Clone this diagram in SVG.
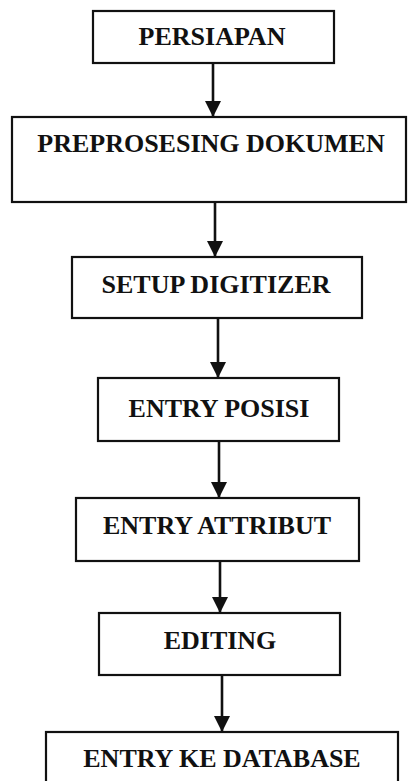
<svg xmlns="http://www.w3.org/2000/svg" width="408" height="781" viewBox="0 0 408 781">
<style>
.box{fill:#fff;stroke:#111;stroke-width:2.2}
.lbl{font-family:"Liberation Serif","Times New Roman",serif;font-weight:bold;font-size:26px;fill:#111;text-anchor:middle}
.edge{stroke:#111;stroke-width:2.6;fill:none;marker-end:url(#ah)}
</style>
<defs>
<marker id="ah" markerUnits="userSpaceOnUse" markerWidth="18" markerHeight="16" refX="16" refY="8" orient="auto">
<path d="M0,0 L16,8 L0,16 Z" fill="#111"/>
</marker>
</defs>
<rect width="408" height="781" fill="#fff"/>
<g id="connectors">
<path class="edge" d="M213,63 V117"/>
<path class="edge" d="M215,202 V257"/>
<path class="edge" d="M218,318 V378"/>
<path class="edge" d="M219,441 V498"/>
<path class="edge" d="M220,561 V613"/>
<path class="edge" d="M222,675 V732"/>
</g>
<g id="persiapan"><rect class="box" x="93" y="11" width="241" height="52"/><text class="lbl" x="212" y="45">PERSIAPAN</text></g>
<g id="preprosesing"><rect class="box" x="12" y="117" width="394" height="85"/><text class="lbl" x="211" y="152">PREPROSESING DOKUMEN</text></g>
<g id="setup"><rect class="box" x="72" y="257" width="290" height="61"/><text class="lbl" x="216" y="293">SETUP DIGITIZER</text></g>
<g id="entry-posisi"><rect class="box" x="98" y="378" width="241" height="63"/><text class="lbl" x="219" y="417">ENTRY POSISI</text></g>
<g id="entry-attribut"><rect class="box" x="76" y="498" width="283" height="63"/><text class="lbl" x="217" y="534">ENTRY ATTRIBUT</text></g>
<g id="editing"><rect class="box" x="99" y="613" width="241" height="62"/><text class="lbl" x="220" y="649">EDITING</text></g>
<g id="entry-database"><rect class="box" x="46" y="732" width="352" height="60"/><text class="lbl" x="222" y="767">ENTRY KE DATABASE</text></g>
</svg>
